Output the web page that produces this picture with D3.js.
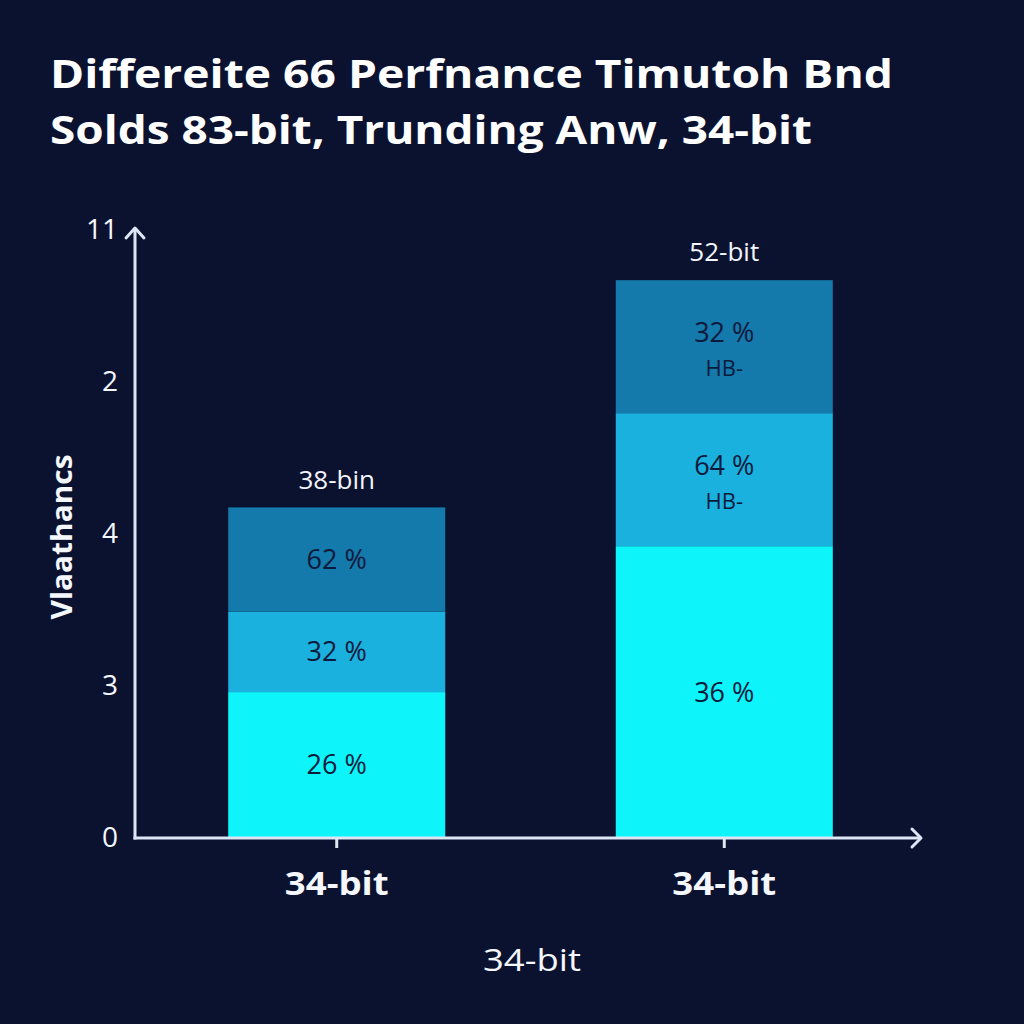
<!DOCTYPE html>
<html><head><meta charset="utf-8">
<script src="https://cdn.jsdelivr.net/npm/d3@7"></script>
<style>html,body{margin:0;padding:0;background:#0a1230;}svg{display:block;}</style>
</head><body>
<svg id="c" width="1024" height="1024"></svg>
<script>
const titleLines = ["Differeite 66 Perfnance Timutoh Bnd", "Solds 83-bit, Trunding Anw, 34-bit"];
const categories = ["A", "B"];
const categoryLabels = ["34-bit", "34-bit"];
const barTopLabels = ["38-bin", "52-bit"];
const seriesKeys = ["low", "mid", "high"];
const lowValues = [0.96, 1.92];
const midValues = [0.53, 0.875];
const highValues = [0.685, 0.875];
const lowLabels = ["26 %", "36 %"];
const midLabels = ["32 %", "64 %"];
const highLabels = ["62 %", "32 %"];
const midSubLabels = ["", "HB-"];
const highSubLabels = ["", "HB-"];
const yTickValues = [0, 1, 2, 3, 4];
const yTickLabels = ["0", "3", "4", "2", "11"];
const yAxisTitle = "Vlaathancs";
const xAxisTitle = "34-bit";

const colors = {low: "#0ef4fb", mid: "#1bb1df", high: "#1479ab"};
const svg = d3.select("#c");
svg.append("rect").attr("width",1024).attr("height",1024).attr("fill","#0a1230");

const y = d3.scaleLinear().domain([0,4]).range([838,230]);
const x = d3.scaleBand().domain(categories).range([141,920]).paddingInner(0.44).paddingOuter(0.225);

// title
svg.append("g").selectAll("text").data(titleLines).join("text")
  .attr("x",50).attr("y",(d,i)=>88+i*56)
  .attr("fill","#ffffff").attr("font-family","Open Sans, sans-serif").attr("font-weight",700)
  .attr("font-size",40).attr("textLength",(d,i)=>i===0?843:762).attr("lengthAdjust","spacingAndGlyphs")
  .text(d=>d);

// stacked data
const rows = categories.map((c,i)=>({cat:c, low:lowValues[i], mid:midValues[i], high:highValues[i], i}));
const stack = d3.stack().keys(seriesKeys)(rows);
const labelMap = {low:lowLabels, mid:midLabels, high:highLabels};
const subMap = {low:["",""], mid:midSubLabels, high:highSubLabels};

const g = svg.append("g");
stack.forEach(layer=>{
  g.selectAll(null).data(layer).join("rect")
    .attr("x",d=>x(d.data.cat)).attr("width",x.bandwidth())
    .attr("y",d=>y(d[1])).attr("height",d=>y(d[0])-y(d[1]))
    .attr("fill",colors[layer.key]);
});
stack.forEach(layer=>{
  layer.forEach(d=>{
    const i = d.data.i;
    const cx = x(d.data.cat)+x.bandwidth()/2;
    const cy = (y(d[0])+y(d[1]))/2;
    const sub = subMap[layer.key][i];
    const off = sub ? -14 : 0;
    g.append("text").attr("x",cx).attr("y",cy+off).attr("dy","0.35em")
      .attr("text-anchor","middle").attr("fill","#0c1a3c")
      .attr("font-family","Open Sans, sans-serif").attr("font-size",27)
      .text(labelMap[layer.key][i]);
    if (sub) {
      g.append("text").attr("x",cx).attr("y",cy+22).attr("dy","0.35em")
        .attr("text-anchor","middle").attr("fill","#0c1a3c")
        .attr("font-family","Open Sans, sans-serif").attr("font-size",22)
        .text(sub);
    }
  });
});
// bar top labels
const last = stack[stack.length-1];
g.selectAll(null).data(last).join("text")
  .attr("x",d=>x(d.data.cat)+x.bandwidth()/2).attr("y",d=>y(d[1])-28).attr("dy","0.35em")
  .attr("text-anchor","middle").attr("fill","#f2f5fb")
  .attr("font-family","Open Sans, sans-serif").attr("font-size",26)
  .text((d,i)=>barTopLabels[i]);

// axes
const axisColor = "#dce6f4";
const yAxis = d3.axisLeft(y).tickValues(yTickValues).tickSize(0).tickPadding(17)
  .tickFormat((d,i)=>yTickLabels[i]);
const yg = svg.append("g").attr("transform","translate(135,0)").call(yAxis);
yg.select(".domain").remove();
yg.selectAll("text").attr("fill","#f4f7fc").attr("font-family","Open Sans, sans-serif").attr("font-size",28);

const xAxis = d3.axisBottom(x).tickSize(10).tickPadding(24).tickFormat((d,i)=>categoryLabels[i]);
const xg = svg.append("g").attr("transform","translate(0,838)").call(xAxis);
xg.select(".domain").remove();
xg.selectAll("line").attr("stroke",axisColor).attr("stroke-width",3);
xg.selectAll("text").attr("fill","#f4f7fc").attr("font-family","Open Sans, sans-serif")
  .attr("font-weight",700).attr("font-size",33).attr("textLength",104).attr("lengthAdjust","spacingAndGlyphs");

// axis lines with arrows
svg.append("line").attr("x1",135).attr("y1",839.5).attr("x2",135).attr("y2",228)
  .attr("stroke",axisColor).attr("stroke-width",3);
svg.append("path").attr("d","M126,238 L135,228 L144,238").attr("fill","none")
  .attr("stroke",axisColor).attr("stroke-width",3).attr("stroke-linecap","round").attr("stroke-linejoin","round");
svg.append("line").attr("x1",133.5).attr("y1",838).attr("x2",921).attr("y2",838)
  .attr("stroke",axisColor).attr("stroke-width",3);
svg.append("path").attr("d","M912,829 L921,838 L912,847").attr("fill","none")
  .attr("stroke",axisColor).attr("stroke-width",3).attr("stroke-linecap","round").attr("stroke-linejoin","round");

// axis titles
svg.append("text").attr("transform","translate(62,537) rotate(-90)").attr("dy","0.35em")
  .attr("text-anchor","middle").attr("fill","#f4f7fc").attr("font-family","Open Sans, sans-serif")
  .attr("font-weight",700).attr("font-size",29).attr("textLength",165).attr("lengthAdjust","spacingAndGlyphs")
  .text(yAxisTitle);
svg.append("text").attr("x",532).attr("y",960).attr("dy","0.35em")
  .attr("text-anchor","middle").attr("fill","#f4f7fc").attr("font-family","Open Sans, sans-serif")
  .attr("font-size",31).attr("textLength",98).attr("lengthAdjust","spacingAndGlyphs").text(xAxisTitle);
</script>
</body></html>
